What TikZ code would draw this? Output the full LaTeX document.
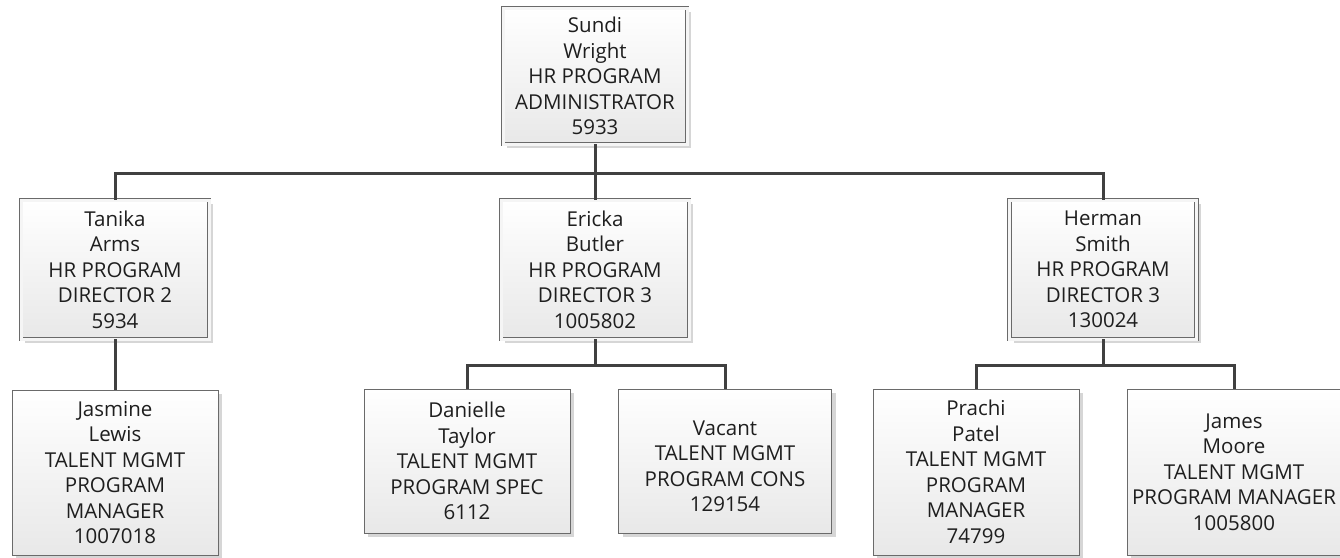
\documentclass[tikz,border=0pt]{standalone}
\usepackage{fontspec}
\setmainfont{Open Sans}
\usetikzlibrary{shadows}
\definecolor{linegray}{HTML}{404040}
\definecolor{boxline}{HTML}{6A6A6A}
\definecolor{shadowgray}{HTML}{D6D6D6}
\definecolor{txt}{HTML}{1E1E1E}
\tikzset{
  box/.style={rectangle, draw=boxline, line width=1pt, top color=white, bottom color=black!9,
    drop shadow={shadow xshift=4pt, shadow yshift=-4pt, fill=shadowgray, opacity=1},
    inner sep=0pt, align=center, text=txt, font=\fontsize{20.5}{25.5}\selectfont},
  mgr/.style={box, line width=0.9pt, double=black!4, double distance=3pt},
  conn/.style={draw=linegray, line width=3pt}
}
\begin{document}
\begin{tikzpicture}[x=1pt,y=-1pt]
\fill[white] (0,0) rectangle (1340,557);
\useasboundingbox (0,0) rectangle (1340,557);
% managers
\node[mgr, minimum width=184pt, minimum height=136pt] (sundi) at (595,76)
  {Sundi\\Wright\\HR PROGRAM\\ADMINISTRATOR\\5933};
\node[mgr, minimum width=188pt, minimum height=139pt] (tanika) at (115,269.5)
  {Tanika\\Arms\\HR PROGRAM\\DIRECTOR 2\\5934};
\node[mgr, minimum width=188pt, minimum height=139pt] (ericka) at (595,269.5)
  {Ericka\\Butler\\HR PROGRAM\\DIRECTOR 3\\1005802};
\node[mgr, minimum width=187pt, minimum height=139pt] (herman) at (1103,269.5)
  {Herman\\Smith\\HR PROGRAM\\DIRECTOR 3\\130024};
% staff
\node[box, minimum width=206pt, minimum height=165pt] (jasmine) at (115,472.5)
  {Jasmine\\Lewis\\TALENT MGMT\\PROGRAM\\MANAGER\\1007018};
\node[box, minimum width=206pt, minimum height=144pt] (danielle) at (467,461)
  {Danielle\\Taylor\\TALENT MGMT\\PROGRAM SPEC\\6112};
\node[box, minimum width=213pt, minimum height=144pt] (vacant) at (725,461)
  {\mbox{}\\Vacant\\TALENT MGMT\\PROGRAM CONS\\129154};
\node[box, minimum width=206pt, minimum height=166pt] (prachi) at (976,472)
  {Prachi\\Patel\\TALENT MGMT\\PROGRAM\\MANAGER\\74799};
\node[box, minimum width=214pt, minimum height=166pt] (james) at (1234,472)
  {James\\Moore\\TALENT MGMT\\PROGRAM MANAGER\\1005800};
% connectors
\coordinate (b1) at (595,173);
\coordinate (b2) at (595,365);
\coordinate (b3) at (1103,365);
\draw[conn] (sundi.south) -- (b1) -| (tanika.north);
\draw[conn] (b1) -| (herman.north);
\draw[conn] (b1) -- (ericka.north);
\draw[conn] (tanika.south) -- (jasmine.north);
\draw[conn] (ericka.south) -- (b2) -| (danielle.north);
\draw[conn] (b2) -| (vacant.north);
\draw[conn] (herman.south) -- (b3) -| (prachi.north);
\draw[conn] (b3) -| (james.north);
\end{tikzpicture}
\end{document}
